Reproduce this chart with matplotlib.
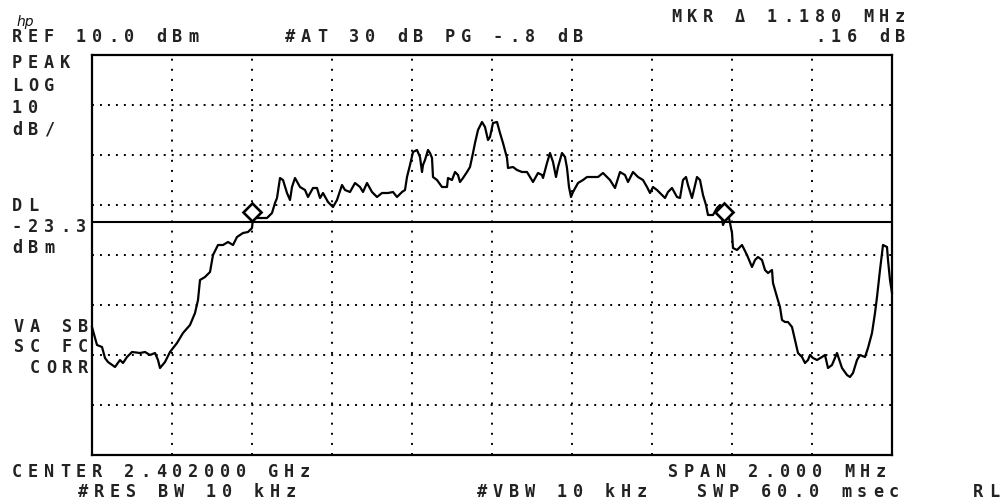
import matplotlib
matplotlib.use("Agg")
from matplotlib import pyplot as plt

# trace: offset from center (MHz) and level (dBm)
freq_mhz = [
    -1.0, -0.9875, -0.975, -0.9675, -0.96, -0.9425, -0.93, -0.9225, -0.9125, -0.9,
    -0.88, -0.8675, -0.855, -0.8425, -0.835, -0.83, -0.8175, -0.805, -0.7875, -0.7725,
    -0.755, -0.7425, -0.735, -0.73, -0.7175, -0.705, -0.6975, -0.685, -0.6725, -0.66,
    -0.6475, -0.6375, -0.6225, -0.61, -0.6, -0.5975, -0.58, -0.5625, -0.55, -0.5425,
    -0.5375, -0.53, -0.5225, -0.5125, -0.505, -0.5, -0.4925, -0.48, -0.4675, -0.46,
    -0.4475, -0.4375, -0.43, -0.4225, -0.41, -0.3975, -0.3875, -0.375, -0.3675, -0.355,
    -0.3425, -0.33, -0.3225, -0.3125, -0.3, -0.2875, -0.275, -0.26, -0.2475, -0.2375,
    -0.225, -0.2175, -0.2125, -0.205, -0.1975, -0.1875, -0.18, -0.175, -0.1725, -0.1675,
    -0.16, -0.155, -0.15, -0.1475, -0.1375, -0.125, -0.1125, -0.11, -0.1, -0.0925,
    -0.085, -0.08, -0.0725, -0.0625, -0.055, -0.0475, -0.0425, -0.035, -0.025, -0.0175,
    -0.01, -0.005, 0.0025, 0.0125, 0.02, 0.0275, 0.0375, 0.04, 0.0525, 0.0625,
    0.075, 0.0875, 0.095, 0.1025, 0.115, 0.125, 0.1275, 0.1375, 0.145, 0.1525,
    0.16, 0.165, 0.175, 0.1825, 0.1875, 0.1925, 0.1975, 0.2025, 0.215, 0.2275,
    0.2375, 0.25, 0.265, 0.2775, 0.2875, 0.295, 0.3075, 0.32, 0.3325, 0.34,
    0.3525, 0.365, 0.3775, 0.3875, 0.395, 0.4025, 0.4125, 0.425, 0.4325, 0.44,
    0.45, 0.4625, 0.47, 0.4775, 0.485, 0.49, 0.5, 0.5125, 0.52, 0.5275,
    0.535, 0.54, 0.5525, 0.5625, 0.57, 0.5775, 0.59, 0.6, 0.6025, 0.6125,
    0.625, 0.6375, 0.65, 0.6575, 0.665, 0.675, 0.6825, 0.69, 0.7, 0.7025,
    0.7125, 0.72, 0.725, 0.7325, 0.74, 0.75, 0.7575, 0.765, 0.775, 0.7825,
    0.79, 0.795, 0.8025, 0.8125, 0.825, 0.8325, 0.84, 0.85, 0.8625, 0.87,
    0.875, 0.8875, 0.895, 0.9025, 0.9125, 0.92, 0.9325, 0.94, 0.95, 0.9575,
    0.9625, 0.97, 0.9775, 0.9875, 0.99, 0.995, 1.0,
]
level_dbm = [
    -44.4, -48.0, -48.4, -50.6, -51.4, -52.4, -51.0, -51.6, -50.4, -49.4,
    -49.6, -49.4, -50.0, -49.6, -51.0, -52.6, -51.4, -49.4, -47.6, -45.6,
    -44.0, -41.6, -39.0, -35.0, -34.4, -33.4, -30.0, -28.0, -28.0, -27.4,
    -28.0, -26.4, -25.6, -25.4, -24.6, -22.6, -22.6, -22.6, -21.6, -19.6,
    -18.6, -14.6, -15.0, -17.6, -19.0, -16.4, -14.6, -16.4, -17.0, -18.4,
    -16.6, -16.6, -18.6, -17.6, -19.4, -20.4, -19.0, -16.0, -17.0, -17.4,
    -15.6, -16.4, -17.4, -15.6, -17.4, -18.4, -17.6, -17.6, -17.4, -18.4,
    -17.4, -17.0, -14.4, -12.0, -9.4, -9.0, -10.4, -13.4, -12.0, -11.0,
    -9.0, -9.6, -10.6, -14.4, -15.0, -16.4, -16.4, -14.6, -15.0, -13.4,
    -14.0, -15.4, -14.6, -13.4, -12.4, -9.6, -7.6, -5.0, -3.4, -4.4,
    -7.0, -6.4, -3.6, -3.4, -5.6, -7.6, -10.6, -12.6, -12.4, -13.0,
    -13.4, -13.4, -14.4, -15.4, -13.6, -14.0, -14.6, -11.6, -9.6, -11.4,
    -14.4, -12.4, -9.6, -10.4, -12.6, -16.4, -18.4, -17.4, -15.6, -15.0,
    -14.4, -14.4, -14.4, -13.6, -14.4, -15.0, -16.6, -13.4, -14.0, -15.4,
    -13.4, -14.4, -15.0, -16.4, -17.6, -16.4, -17.0, -18.0, -18.6, -17.4,
    -16.6, -18.4, -18.6, -15.0, -14.4, -16.0, -18.6, -14.4, -15.0, -18.0,
    -20.0, -22.0, -22.0, -20.6, -20.0, -24.0, -21.6, -25.6, -28.6, -29.0,
    -28.0, -30.0, -32.4, -31.0, -30.4, -31.0, -33.0, -33.6, -33.0, -35.6,
    -38.4, -40.4, -43.0, -43.4, -43.4, -44.4, -47.0, -49.6, -50.4, -51.6,
    -51.0, -50.0, -50.6, -51.0, -50.4, -50.0, -52.6, -52.0, -49.6, -51.4,
    -52.6, -54.0, -54.4, -53.6, -51.0, -50.0, -50.4, -48.6, -45.6, -41.6,
    -38.4, -33.0, -28.0, -28.4, -31.0, -35.0, -37.6,
]

mkr_freq = [-0.60, 0.58]
mkr_level = [-21.4, -21.4]
display_line = -23.3
ref_level = 10.0
db_per_div = 10

W, H = 1005, 499
PITCH = 16
FONT = ["DejaVu Sans Mono", "DejaVu Sans"]


def hp_text(fig, x, y, s, right=False):
    # instrument font: fixed wide character cell, one glyph per cell
    if right:
        x = x - len(s) * PITCH + 6
    for i, ch in enumerate(s):
        if ch == " ":
            continue
        fig.text((x + 5 + i * PITCH) / W, 1 - y / H, ch, ha="center",
                 va="baseline", fontsize=12.2, family=FONT, weight="bold",
                 color="#222222")


def main():
    fig = plt.figure(figsize=(W / 100, H / 100), dpi=100)
    ax = fig.add_axes([92 / W, (H - 455) / H, 800 / W, 400 / H])

    ax.set_xlim(-1, 1)
    ax.set_ylim(ref_level - 8 * db_per_div, ref_level)
    ax.set_xticks([])
    ax.set_yticks([])
    for sp in ax.spines.values():
        sp.set_linewidth(1.6)
        sp.set_color("black")

    # dotted graticule
    for i in range(1, 10):
        ax.axvline(-1 + i * 0.2, color="black", lw=1.4, linestyle=(0, (1, 4.2)))
    for j in range(1, 8):
        ax.axhline(ref_level - j * db_per_div, color="black", lw=1.4,
                   linestyle=(0, (1, 3.1)))

    ax.axhline(display_line, color="black", lw=1.5)
    ax.plot(freq_mhz, level_dbm, color="black", lw=1.6, clip_on=False)
    ax.plot(mkr_freq, mkr_level, "D", ms=9, mfc="white", mec="black", mew=1.9)

    # header
    fig.text(17 / W, 1 - 26 / H, "hp", fontsize=10, style="italic",
             family="DejaVu Sans", color="#111111")
    hp_text(fig, 12, 42, "REF 10.0 dBm")
    hp_text(fig, 285, 42, "#AT 30 dB PG -.8 dB")
    hp_text(fig, 905, 22, "MKR \u0394 1.180 MHz", right=True)
    hp_text(fig, 905, 42, ".16 dB", right=True)

    # left annotations
    hp_text(fig, 12, 68, "PEAK")
    hp_text(fig, 12, 91, "LOG")
    hp_text(fig, 12, 113, "10")
    hp_text(fig, 12, 135, "dB/")
    hp_text(fig, 12, 211, "DL")
    hp_text(fig, 12, 232, "-23.3")
    hp_text(fig, 12, 253, "dBm")
    hp_text(fig, 88, 332, "VA SB", right=True)
    hp_text(fig, 88, 352, "SC FC", right=True)
    hp_text(fig, 88, 373, "CORR", right=True)

    # footer
    hp_text(fig, 12, 477, "CENTER 2.402000 GHz")
    hp_text(fig, 668, 477, "SPAN 2.000 MHz")
    hp_text(fig, 78, 497, "#RES BW 10 kHz")
    hp_text(fig, 477, 497, "#VBW 10 kHz")
    hp_text(fig, 697, 497, "SWP 60.0 msec")
    hp_text(fig, 973, 497, "RL")

    fig.savefig("out.png", dpi=100, facecolor="white")


if __name__ == "__main__":
    main()
